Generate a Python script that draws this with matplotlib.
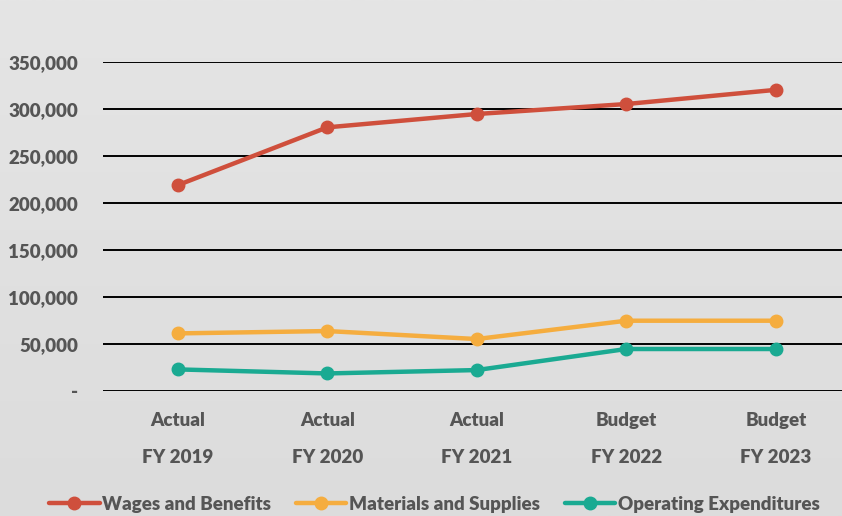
import matplotlib
matplotlib.use("Agg")
import matplotlib.pyplot as plt
import numpy as np
from matplotlib.ticker import FuncFormatter

# data
categories = ["Actual\n\nFY 2019", "Actual\n\nFY 2020", "Actual\n\nFY 2021",
              "Budget\n\nFY 2022", "Budget\n\nFY 2023"]
wages = [219000, 280500, 294700, 305300, 320400]
materials = [61300, 63800, 55300, 74800, 74800]
operating = [23000, 18700, 22300, 44700, 44700]

series = [
    ("Wages and Benefits", wages, "#cf4f3c"),
    ("Materials and Supplies", materials, "#f5ad3f"),
    ("Operating Expenditures", operating, "#1aaa92"),
]

plt.rcParams['font.family'] = ['Lato', 'DejaVu Sans']
plt.rcParams['font.weight'] = 'heavy'
text_color = "#555555"

fig = plt.figure(figsize=(8.42, 5.16), dpi=100)

# soft vertical gradient background
bg = fig.add_axes([0, 0, 1, 1], zorder=-10)
grad = np.linspace(0, 1, 256).reshape(-1, 1)
bg.imshow(grad, aspect='auto', cmap=matplotlib.colors.LinearSegmentedColormap.from_list(
    "bg", ["#e5e5e5", "#dcdcdc"]), extent=[0, 1, 0, 1])
bg.axis('off')

ax = fig.add_axes([0.1223, 0.2422, 0.8878, 0.6376])
ax.patch.set_alpha(0)

x = np.arange(len(categories))
handles = []
for label, vals, color in series:
    h, = ax.plot(x, vals, color=color, lw=3.2, marker='o', markersize=9,
                 label=label, solid_capstyle='round', zorder=3)
    handles.append(h)

ax.set_xlim(-0.5, len(categories) - 0.5)
ax.set_ylim(0, 350000)
ax.set_yticks(np.arange(0, 350001, 50000))
ax.yaxis.set_major_formatter(FuncFormatter(lambda v, p: "-" if v == 0 else f"{int(v):,}"))
ax.set_xticks(x)
ax.set_xticklabels(categories, linespacing=1.1)
for s in ax.spines.values():
    s.set_visible(False)
ax.grid(axis='y', color='black', lw=1.4, zorder=1)
ax.tick_params(length=0, labelsize=13.5, labelcolor=text_color)
ax.tick_params(axis='y', pad=18)
ax.tick_params(axis='x', pad=15)

fig.legend(handles=handles, loc='center', bbox_to_anchor=(0.516, 0.023), ncol=3,
           frameon=False, fontsize=13.5, handlelength=2.7, handletextpad=0.15,
           columnspacing=1.3, labelcolor=text_color)

fig.savefig("out.png", dpi=100)
